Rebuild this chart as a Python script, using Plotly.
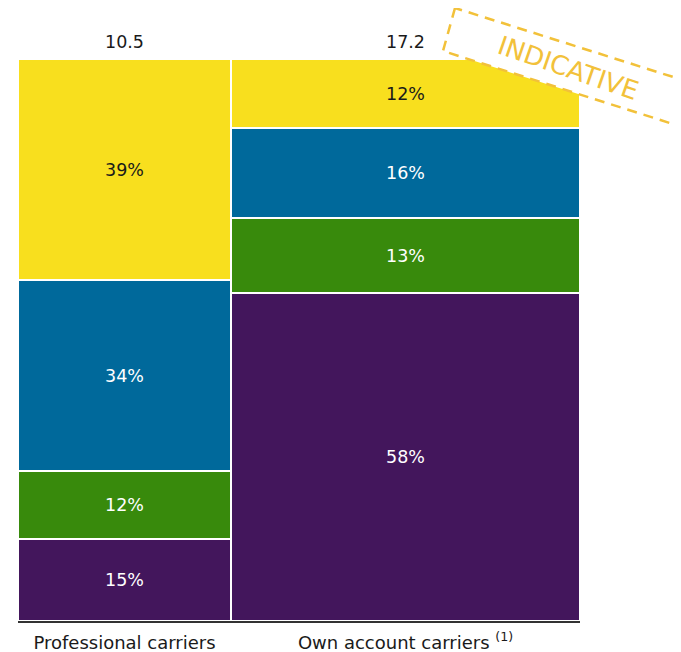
import plotly.graph_objects as go

categories = ["Professional carriers", "Own account carriers <sup>(1)</sup>"]
totals = [10.5, 17.2]
segment_names = ["Purple", "Green", "Blue", "Yellow"]
purple = [14.6, 58.4]
green = [12.1, 13.3]
blue = [34.0, 16.1]
yellow = [39.3, 12.2]
segment_labels = [["15%", "58%"], ["12%", "13%"], ["34%", "16%"], ["39%", "12%"]]
colors = ["#43165C", "#388A0C", "#00699B", "#F8DF1E"]
text_colors = ["#FFFFFF", "#FFFFFF", "#FFFFFF", "#1A1A1A"]

# x-position (centre) and width of each mekko column
starts = []
acc = 0.0
for t in totals:
    starts.append(acc)
    acc += t
total_width = acc
centers = [s + t / 2 for s, t in zip(starts, totals)]

FONT = "DejaVu Sans, Verdana, sans-serif"

fig = go.Figure()
for name, vals, labels, col, tcol in zip(segment_names, [purple, green, blue, yellow],
                                         segment_labels, colors, text_colors):
    fig.add_trace(go.Bar(
        x=centers, y=vals, width=totals, name=name,
        marker=dict(color=col, line=dict(color="white", width=2)),
        text=labels, textposition="inside", insidetextanchor="middle",
        textfont=dict(color=tcol, size=17.5, family=FONT),
        hoverinfo="skip", showlegend=False,
    ))

# figure geometry (page has an 8px body margin)
OFF = 8
W, H = 673, 644
L, R, T, B = 10, 101, 51, 31
pw, ph = W - L - R, H - T - B


def px(x):
    return (x - OFF - L) / pw


def py(y):
    return (H - B - (y - OFF)) / ph


annotations = []
for c, t in zip(centers, totals):
    annotations.append(dict(x=c, y=1.0, xref="x", yref="paper", yshift=17,
                            xanchor="center", yanchor="middle",
                            text=f"{t}", showarrow=False,
                            font=dict(size=17.5, color="#1A1A1A", family=FONT)))

# INDICATIVE stamp
corners = [(455, 8), (443, 51), (695, 131), (708, 88)]
path = "M " + " L ".join(f"{px(x)},{py(y)}" for x, y in corners) + " Z"
shapes = [dict(type="path", path=path, xref="paper", yref="paper",
               fillcolor="white", line=dict(color="#F2C13A", width=2.5, dash="10px,7px"),
               layer="above")]
annotations.append(dict(x=px(568), y=py(68), xref="paper", yref="paper",
                        xanchor="center", yanchor="middle",
                        text="INDICATIVE", showarrow=False, textangle=19,
                        font=dict(size=26, color="#F2C13A", family=FONT)))

fig.update_layout(
    width=W, height=H,
    margin=dict(l=L, r=R, t=T, b=B, autoexpand=False),
    paper_bgcolor="white", plot_bgcolor="white",
    barmode="stack", bargap=0,
    xaxis=dict(range=[0, total_width], tickvals=centers, ticktext=categories,
               showgrid=False, zeroline=False, showline=True, linecolor="#333333",
               linewidth=2, ticks="", ticklabelstandoff=4,
               tickfont=dict(size=18, color="#1A1A1A", family=FONT),
               automargin=False, fixedrange=True),
    yaxis=dict(range=[0, 100], visible=False, fixedrange=True),
    shapes=shapes, annotations=annotations,
    hovermode=False,
)

fig.write_html("out.html")
